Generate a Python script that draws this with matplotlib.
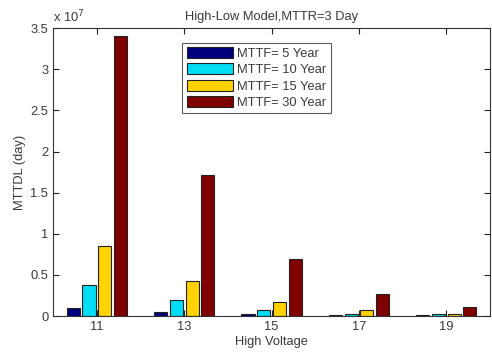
import numpy as np
import matplotlib
matplotlib.use("Agg")
import matplotlib.pyplot as plt
from matplotlib.ticker import FuncFormatter

plt.rcParams['font.family'] = ['Liberation Sans', 'DejaVu Sans']

# high voltage levels and MTTDL (days) for each MTTF setting
voltage = [11, 13, 15, 17, 19]
mttf_labels = ['MTTF= 5 Year', 'MTTF= 10 Year', 'MTTF= 15 Year', 'MTTF= 30 Year']
mttdl_5y = [0.10e7, 0.05e7, 0.02e7, 0.01e7, 0.01e7]
mttdl_10y = [0.38e7, 0.19e7, 0.08e7, 0.03e7, 0.02e7]
mttdl_15y = [0.85e7, 0.43e7, 0.17e7, 0.07e7, 0.03e7]
mttdl_30y = [3.40e7, 1.72e7, 0.69e7, 0.27e7, 0.115e7]

series = [mttdl_5y, mttdl_10y, mttdl_15y, mttdl_30y]
colors = ['#00007F', '#00DDF5', '#FFD200', '#7F0000']

fig = plt.figure(figsize=(4.92, 3.52), dpi=100)
ax = fig.add_axes([0.108, 0.102, 0.888, 0.818])

x = np.array(voltage, dtype=float)
offsets = [-0.54, -0.18, 0.18, 0.54]
width = 0.30
for vals, off, col, lab in zip(series, offsets, colors, mttf_labels):
    ax.bar(x + off, vals, width=width, color=col, edgecolor='#222222',
           linewidth=0.8, label=lab)

ax.set_xlim(10, 20)
ax.set_ylim(0, 3.5e7)
ax.set_xticks(voltage)
ax.set_yticks(np.arange(0, 3.51e7, 0.5e7))
ax.yaxis.set_major_formatter(FuncFormatter(lambda v, p: '%g' % (v / 1e7)))
ax.tick_params(direction='in', top=True, right=True, length=4,
               labelsize=9.3, colors='#222222', labelcolor='#3a3a3a')
for s in ax.spines.values():
    s.set_color('#333333')
    s.set_linewidth(0.8)

ax.text(0.0, 1.01, r'x 10$^7$', transform=ax.transAxes, fontsize=9.3,
        color='#3a3a3a', ha='left', va='bottom')
ax.set_title('High-Low Model,MTTR=3 Day', fontsize=9.3, color='#3a3a3a', pad=6)
ax.set_xlabel('High Voltage', fontsize=9.3, color='#3a3a3a', labelpad=2)
ax.set_ylabel('MTTDL (day)', fontsize=9.3, color='#3a3a3a', labelpad=3)

leg = ax.legend(loc='upper left', bbox_to_anchor=(0.295, 0.95), fontsize=9.3,
                frameon=True, fancybox=False, handlelength=3.6, handleheight=0.95,
                handletextpad=0.3, labelspacing=0.25, borderpad=0.35,
                borderaxespad=0.0)
leg.get_frame().set_edgecolor('#333333')
leg.get_frame().set_linewidth(0.8)
for t in leg.get_texts():
    t.set_color('#3a3a3a')

fig.savefig('out.png', dpi=100)
